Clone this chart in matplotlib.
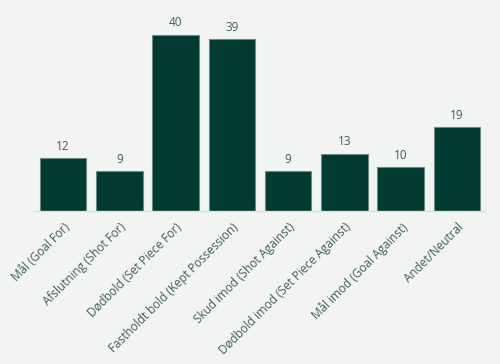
import matplotlib.pyplot as plt

categories = [
    "Mål (Goal For)", "Afslutning (Shot For)", "Dødbold (Set Piece For)",
    "Fastholdt bold (Kept Possession)", "Skud imod (Shot Against)",
    "Dødbold imod (Set Piece Against)", "Mål imod (Goal Against)", "Andet/Neutral",
]
counts = [12, 9, 40, 39, 9, 13, 10, 19]

bg = "#f2f4f3"
bar_color = "#003a30"
text_color = "#3f5f55"

plt.rcParams['font.family'] = ['Open Sans', 'DejaVu Sans']

fig = plt.figure(figsize=(5, 3.64), dpi=100, facecolor=bg)
ax = fig.add_axes([35 / 500, 153 / 364, 450 / 500, 194 / 364], facecolor=bg)

x = range(len(categories))
bars = ax.bar(x, counts, width=0.83, color=bar_color, edgecolor="#6c8c82", linewidth=0.8)
for b, v in zip(bars, counts):
    ax.text(b.get_x() + b.get_width() / 2, v + 1.2, str(v), ha='center', va='bottom',
            fontsize=8.5, color=text_color)

ax.set_xlim(-0.5, len(categories) - 0.5)
ax.set_ylim(0, 44)
ax.set_xticks(list(x))
ax.set_xticklabels(categories, rotation=45, ha='right', rotation_mode='anchor',
                   fontsize=8.5, color=text_color)
ax.tick_params(axis='x', length=0, pad=7)
ax.set_yticks([])
for s in ['top', 'right', 'left']:
    ax.spines[s].set_visible(False)
ax.spines['bottom'].set_color("#d9dedc")
ax.spines['bottom'].set_linewidth(1)

fig.savefig("out.png", dpi=100, facecolor=bg)
